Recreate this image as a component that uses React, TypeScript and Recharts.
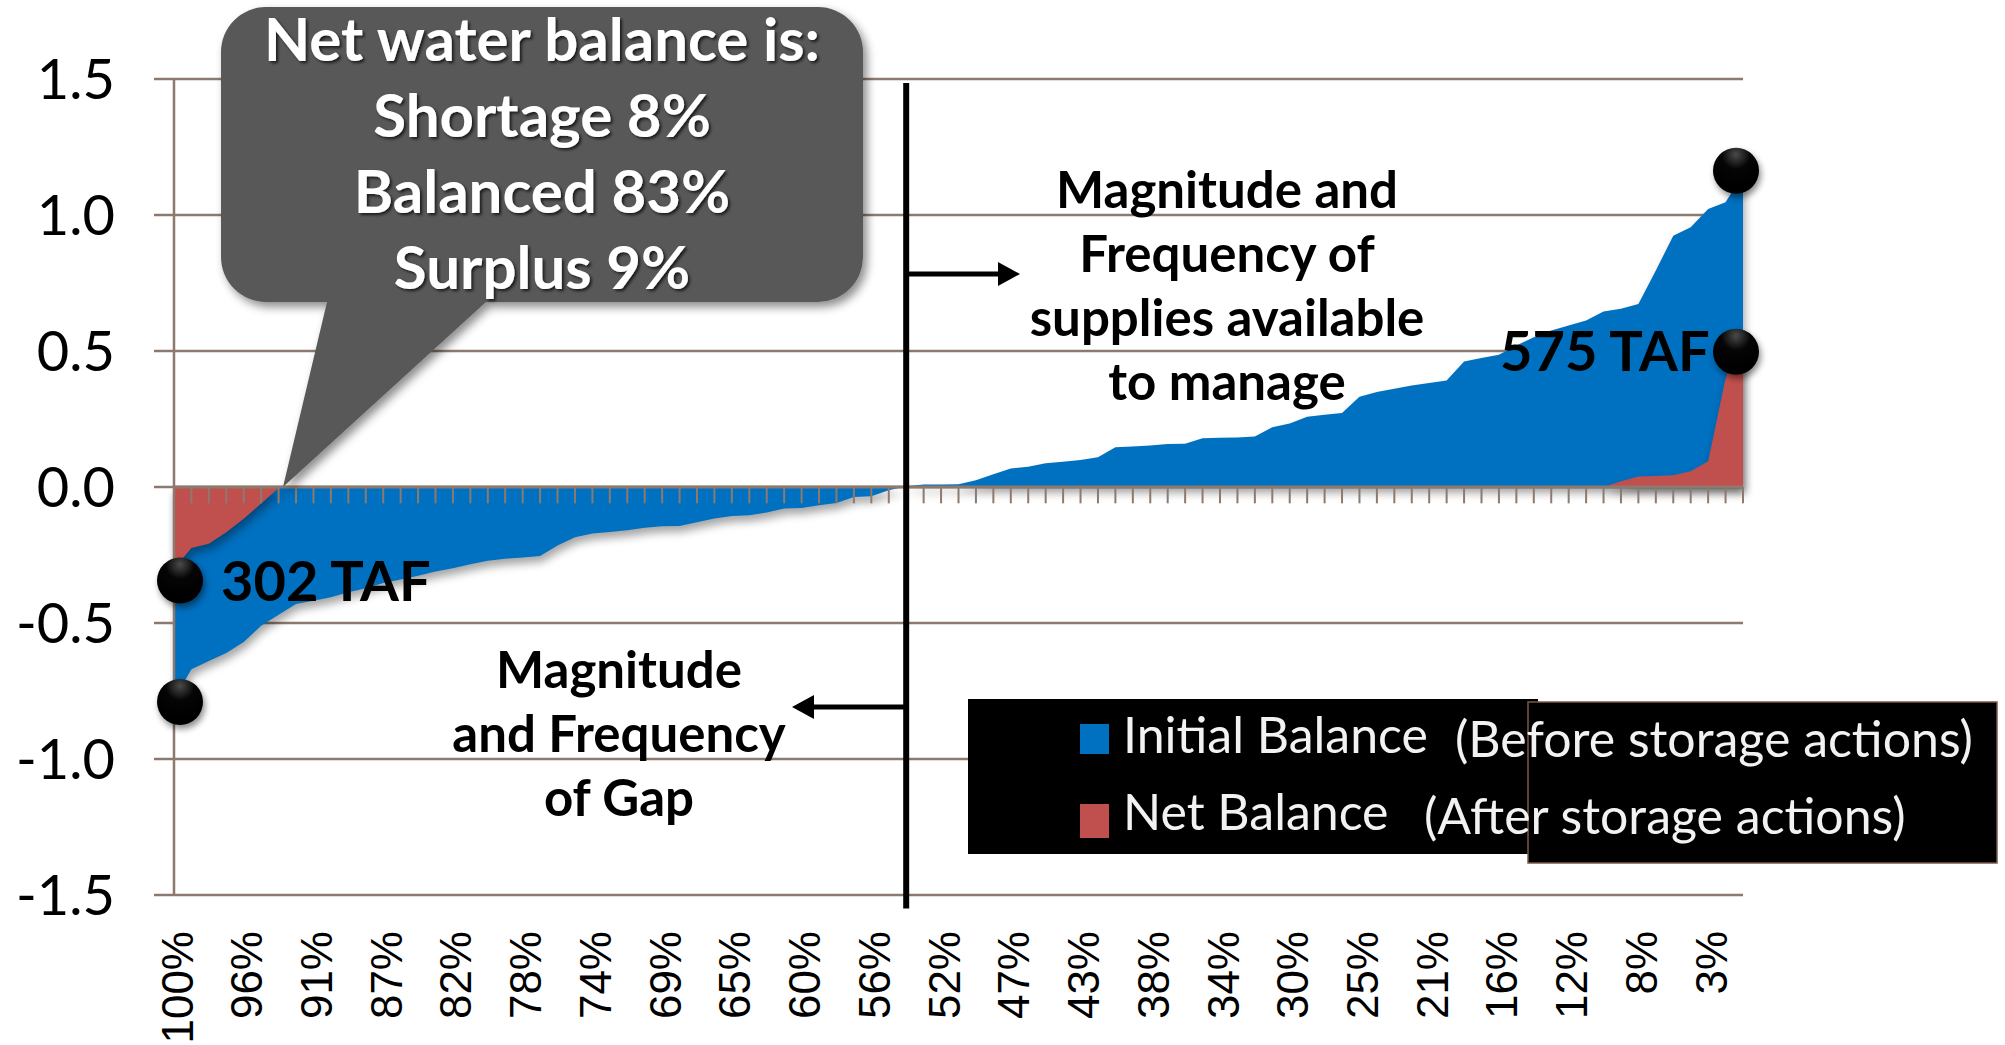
import React from 'react'
import {
  AreaChart, Area, XAxis, YAxis, CartesianGrid, ReferenceLine,
  ReferenceDot, Legend,
} from 'recharts'

const W = 2005
const H = 1045
const GRID = '#8C7A6E'
const FONT = "Lato, 'Open Sans', sans-serif"

// exceedance probability of each ranked year (91 years)
const exceedance = [
  '100%', '99%', '98%', '97%', '96%', '95%', '93%', '92%', '91%', '90%',
  '89%', '88%', '87%', '86%', '85%', '84%', '82%', '81%', '80%', '79%',
  '78%', '77%', '76%', '75%', '74%', '73%', '71%', '70%', '69%', '68%',
  '67%', '66%', '65%', '64%', '63%', '62%', '60%', '59%', '58%', '57%',
  '56%', '55%', '54%', '53%', '52%', '51%', '49%', '48%', '47%', '46%',
  '45%', '44%', '43%', '42%', '41%', '40%', '38%', '37%', '36%', '35%',
  '34%', '33%', '32%', '31%', '30%', '29%', '27%', '26%', '25%', '24%',
  '23%', '22%', '21%', '20%', '19%', '18%', '16%', '15%', '14%', '13%',
  '12%', '11%', '10%', '9%', '8%', '7%', '5%', '4%', '3%', '2%',
  '1%',
]

const initialBalance = [
  -0.78, -0.67, -0.64, -0.61, -0.57, -0.51, -0.47, -0.43, -0.418, -0.405,
  -0.387, -0.372, -0.353, -0.34, -0.326, -0.311, -0.299, -0.284, -0.271, -0.264,
  -0.259, -0.254, -0.215, -0.185, -0.171, -0.165, -0.159, -0.15, -0.144, -0.143,
  -0.13, -0.116, -0.107, -0.104, -0.094, -0.079, -0.077, -0.067, -0.059, -0.037,
  -0.034, -0.012, 0.003, 0.009, 0.009, 0.01, 0.025, 0.047, 0.068, 0.074,
  0.087, 0.093, 0.099, 0.109, 0.146, 0.149, 0.153, 0.158, 0.159, 0.179,
  0.181, 0.182, 0.186, 0.22, 0.233, 0.258, 0.266, 0.272, 0.332, 0.349,
  0.361, 0.373, 0.382, 0.392, 0.461, 0.474, 0.486, 0.52, 0.551, 0.575,
  0.594, 0.612, 0.645, 0.655, 0.673, 0.796, 0.924, 0.955, 1.022, 1.047,
  1.15,
]

const netBalance = [
  -0.3, -0.224, -0.209, -0.166, -0.117, -0.061, -0.004, 0, 0, 0,
  0, 0, 0, 0, 0, 0, 0, 0, 0, 0,
  0, 0, 0, 0, 0, 0, 0, 0, 0, 0,
  0, 0, 0, 0, 0, 0, 0, 0, 0, 0,
  0, 0, 0, 0, 0, 0, 0, 0, 0, 0,
  0, 0, 0, 0, 0, 0, 0, 0, 0, 0,
  0, 0, 0, 0, 0, 0, 0, 0, 0, 0,
  0, 0, 0, 0, 0, 0, 0, 0, 0, 0,
  0, 0, 0, 0.021, 0.039, 0.04, 0.043, 0.058, 0.095, 0.4,
  0.575,
]

const yTicks = [-1.5, -1, -0.5, 0, 0.5, 1, 1.5]

const seriesNames = ['Initial Balance', 'Net Balance']
const seriesNotes = ['(Before storage actions)', '(After storage actions)']
const seriesColors = ['#0070C0', '#C0504D']

const calloutLines = ['Net water balance is:', 'Shortage 8%', 'Balanced 83%', 'Surplus 9%']
const supplyLines = ['Magnitude and', 'Frequency of', 'supplies available', 'to manage']
const gapLines = ['Magnitude', 'and Frequency', 'of Gap']

// dots marking the ends of the curves
const endMarkers = [
  { idx: 0, y: -0.344 },
  { idx: 0, y: -0.79 },
  { idx: 90, y: 1.163 },
  { idx: 90, y: 0.497 },
]
const markerLabels = ['302 TAF', '575 TAF']

const data = exceedance.map((cat, i) => ({
  cat,
  initial: initialBalance[i],
  net: netBalance[i],
}))

function XTick(props: any) {
  const { x, y, payload } = props
  return (
    <g transform={`translate(${x + 3},${y + 36})`}>
      <text
        transform="rotate(-90)"
        textAnchor="end"
        dominantBaseline="central"
        fontSize={44}
        fontFamily="'Liberation Sans', Arial, sans-serif"
        fill="#000"
      >
        {payload.value}
      </text>
    </g>
  )
}

function LegendBox() {
  const ox = 960
  const oy = 690
  const rows = [753, 830]
  return (
    <svg width={1045} height={180} style={{ display: 'block' }}>
      <rect x={968 - ox} y={699 - oy} width={570} height={155} fill="#000" />
      <rect x={1528 - ox} y={702 - oy} width={469} height={161} fill="#000" stroke="#7a5a4a" strokeWidth={1.5} />
      {seriesNames.map((name, i) => (
        <g key={name}>
          <rect x={1080 - ox} y={rows[i] - 29 - oy + (i ? 3 : 0)} width={29} height={i ? 34 : 30} fill={seriesColors[i]} />
          <text x={1123 - ox} y={rows[i] - oy} fontSize={50} fontFamily={FONT} fill="#F2F2F2">{name}</text>
          <text x={(i ? 1424 : 1455) - ox} y={rows[i] - oy + 4} fontSize={50} fontFamily={FONT} fill="#F2F2F2">{seriesNotes[i]}</text>
        </g>
      ))}
    </svg>
  )
}

function Overlay() {
  const L = 221, T = 7, R = 863, B = 302, r = 45
  const callout = `M ${L + r} ${T} H ${R - r} A ${r} ${r} 0 0 1 ${R} ${T + r} V ${B - r} A ${r} ${r} 0 0 1 ${R - r} ${B} H 486 L 283 487 L 327 ${B} H ${L + r} A ${r} ${r} 0 0 1 ${L} ${B - r} V ${T + r} A ${r} ${r} 0 0 1 ${L + r} ${T} Z`
  return (
    <svg width={W} height={H} style={{ position: 'absolute', left: 0, top: 0, pointerEvents: 'none' }}>
      <defs>
        <filter id="boxShadow" x="-10%" y="-10%" width="130%" height="130%">
          <feDropShadow dx="4" dy="5" stdDeviation="5" floodColor="#000" floodOpacity="0.45" />
        </filter>
        <filter id="txtShadow" x="-5%" y="-20%" width="110%" height="150%">
          <feDropShadow dx="2" dy="2" stdDeviation="1.5" floodColor="#000" floodOpacity="0.7" />
        </filter>
        <radialGradient id="dotFill" cx="50%" cy="15%" r="70%">
          <stop offset="0" stopColor="#4a4a4a" />
          <stop offset="0.45" stopColor="#050505" />
          <stop offset="1" stopColor="#000" />
        </radialGradient>
      </defs>

      <path d={callout} fill="#595959" filter="url(#boxShadow)" />
      <g filter="url(#txtShadow)">
        {calloutLines.map((t, i) => (
          <text key={t} x={542} y={61 + i * 76} textAnchor="middle" fontSize={60} fontWeight={700} fontFamily={FONT} fill="#fff">{t}</text>
        ))}
      </g>

      {supplyLines.map((t, i) => (
        <text key={t} x={1227} y={208 + i * 64} textAnchor="middle" fontSize={51} fontWeight={700} fontFamily={FONT} fill="#000">{t}</text>
      ))}
      {gapLines.map((t, i) => (
        <text key={t} x={619} y={688 + i * 64} textAnchor="middle" fontSize={51} fontWeight={700} fontFamily={FONT} fill="#000">{t}</text>
      ))}

      <line x1={906} y1={274} x2={1002} y2={274} stroke="#000" strokeWidth={5} />
      <polygon points="998,262 1020,274 998,286" fill="#000" />
      <line x1={906} y1={707} x2={810} y2={707} stroke="#000" strokeWidth={5} />
      <polygon points="814,695 792,707 814,719" fill="#000" />

      <text x={221} y={601} fontSize={56} fontWeight={700} fontFamily={FONT} fill="#000">{markerLabels[0]}</text>
      <text x={1500} y={371} fontSize={56} fontWeight={700} fontFamily={FONT} fill="#000">{markerLabels[1]}</text>
    </svg>
  )
}

export default function App() {
  return (
    <div style={{ position: 'absolute', left: 0, top: 0, width: W, height: H, background: '#fff', fontFamily: FONT }}>
      <style>{`.soft-area path { filter: drop-shadow(2px 6px 4px rgba(0,0,0,0.35)); }`}</style>
      <AreaChart width={W} height={H} data={data} margin={{ top: 79, right: 262, bottom: 0, left: 0 }}>
        <CartesianGrid vertical={false} stroke={GRID} strokeWidth={2.5} />
        <XAxis
          dataKey="cat"
          scale="point"
          height={150}
          interval={3}
          axisLine={false}
          tickLine={false}
          tickSize={0}
          tickMargin={0}
          tick={<XTick />}
        />
        <YAxis
          domain={[-1.5, 1.5]}
          ticks={yTicks}
          width={174}
          tickFormatter={(v: number) => v.toFixed(1)}
          tick={{ fontSize: 56, fontFamily: FONT, fill: '#000' }}
          tickSize={20}
          tickMargin={39}
          axisLine={{ stroke: GRID, strokeWidth: 2.5 }}
          tickLine={{ stroke: GRID, strokeWidth: 2.5 }}
        />
        <Area
          dataKey="initial"
          name={seriesNames[0]}
          type="linear"
          baseValue={0}
          fill={seriesColors[0]}
          fillOpacity={1}
          stroke="none"
          className="soft-area"
          isAnimationActive={false}
        />
        <Area
          dataKey="net"
          name={seriesNames[1]}
          type="linear"
          baseValue={0}
          fill={seriesColors[1]}
          fillOpacity={1}
          stroke="none"
          className="soft-area"
          isAnimationActive={false}
        />
        <ReferenceLine y={0} stroke={GRID} strokeWidth={3} />
        {exceedance.map(c => (
          <ReferenceLine key={c} segment={[{ x: c, y: 0 }, { x: c, y: -0.06 }]} stroke={GRID} strokeWidth={2} />
        ))}
        <ReferenceLine
          segment={[{ x: exceedance[42], y: 1.485 }, { x: exceedance[42], y: -1.55 }]}
          stroke="#000"
          strokeWidth={6}
          ifOverflow="visible"
        />
        {endMarkers.map((m, i) => (
          <ReferenceDot
            key={i}
            x={exceedance[m.idx]}
            y={m.y}
            r={23}
            ifOverflow="visible"
            shape={(p: any) => (
              <circle
                cx={p.cx + (m.idx === 0 ? 6 : -7)}
                cy={p.cy}
                r={23}
                fill="url(#dotFill)"
                style={{ filter: 'drop-shadow(2px 4px 3px rgba(0,0,0,0.45))' }}
              />
            )}
          />
        ))}
        <Legend
          layout="horizontal"
          verticalAlign="middle"
          align="center"
          wrapperStyle={{ left: 960, top: 690, width: 1045, height: 180 }}
          content={() => <LegendBox />}
        />
      </AreaChart>
      <Overlay />
    </div>
  )
}
